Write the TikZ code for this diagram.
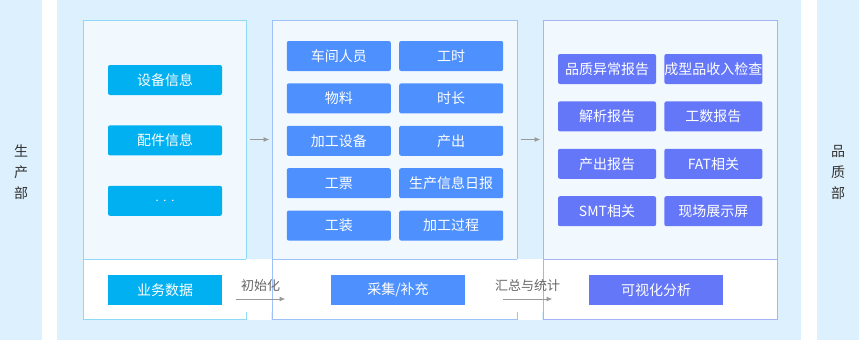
\documentclass[tikz,border=0pt]{standalone}
\usepackage{fontspec}
\setmainfont{Noto Sans CJK SC}
\usetikzlibrary{arrows.meta,positioning}
\definecolor{deptbg}{HTML}{DDF0FD}
\definecolor{panelfill}{HTML}{F1F9FE}
\definecolor{srcline}{HTML}{8ED8F8}
\definecolor{collectline}{HTML}{9EC2F8}
\definecolor{reportline}{HTML}{A6B4F4}
\definecolor{srcblue}{HTML}{00B0F0}
\definecolor{collectblue}{HTML}{4D90FE}
\definecolor{reportviolet}{HTML}{6477F9}
\definecolor{depttext}{HTML}{333333}
\definecolor{flowgray}{HTML}{999999}
\definecolor{labelgray}{HTML}{666666}
\tikzset{
  panelbox/.style={
    draw=#1,
    fill=panelfill,
    line width=1pt,
    inner sep=0pt,
    minimum height=239pt
  },
  bandbox/.style={
    draw=#1,
    fill=white,
    line width=1pt,
    inner sep=0pt,
    minimum height=60pt
  },
  tilebox/.style={
    fill=#1,
    text=white,
    inner sep=0pt,
    minimum height=30pt,
    rounded corners=2pt,
    font=\fontsize{14}{16}\selectfont
  },
  srcbox/.style={tilebox=srcblue, minimum width=114pt},
  collectbox/.style={tilebox=collectblue, minimum width=104pt},
  reportbox/.style={tilebox=reportviolet, minimum width=98pt},
  stagebox/.style={tilebox=#1, rounded corners=0pt, minimum width=134pt},
  flowarrow/.style={-{Latex[length=6pt,width=5pt]}, line width=1pt, draw=flowgray},
  flowlabel/.style={text=labelgray, inner sep=0pt, font=\fontsize{13}{15}\selectfont},
  deptlabel/.style={align=center, text=depttext, font=\fontsize{14}{21}\selectfont}
}

\begin{document}
\begin{tikzpicture}[x=1pt, y=-1pt, node distance=12pt and 8pt]
  \useasboundingbox (0,0) rectangle (859,340);
  \fill[deptbg] (0,0) rectangle (42,340);
  \fill[deptbg] (57,0) rectangle (801,340);
  \fill[deptbg] (817,0) rectangle (859,340);
  \node[deptlabel] (prod) at (21,172) {生\\产\\部};
  \node[deptlabel] (qual) at (838,172) {品\\质\\部};

  \node[panelbox=srcline, minimum width=163pt] (panA) at (164.5,139.5) {};
  \node[panelbox=collectline, minimum width=245pt] (panB) at (394.5,139.5) {};
  \node[panelbox=reportline, minimum width=234pt] (panC) at (660,139.5) {};
  \node[bandbox=srcline, minimum width=163pt] (bandA) at (164.5,289) {};
  \node[bandbox=collectline, minimum width=245pt] (bandB) at (394.5,289) {};
  \node[bandbox=reportline, minimum width=234pt] (bandC) at (660,289) {};
  \fill[white] ([xshift=-0.6pt,yshift=-0.6pt]bandA.north east) rectangle ([xshift=0.6pt,yshift=8pt]bandB.south west);
  \fill[white] ([xshift=0.5pt]bandA.south east) rectangle ([xshift=-0.5pt,yshift=-0.6pt]bandB.north west);
  \fill[white] ([xshift=-0.6pt,yshift=-0.6pt]bandB.north east) rectangle ([xshift=0.6pt,yshift=8pt]bandC.south west);
  \fill[white] ([xshift=0.5pt]bandB.south east) rectangle ([xshift=-0.5pt,yshift=-0.6pt]bandC.north west);

  \node[srcbox] (equip) at (165,80) {设备信息};
  \node[srcbox, below=30pt of equip] (parts) {配件信息};
  \node[srcbox, below=30pt of parts] (more) {${\cdot}\;{\cdot}\;{\cdot}$};

  \node[collectbox] (staff) at (338.8,56) {车间人员};
  \node[collectbox, below=of staff] (material) {物料};
  \node[collectbox, below=of material] (device) {加工设备};
  \node[collectbox, below=of device] (ticket) {工票};
  \node[collectbox, below=of ticket] (fixture) {工装};
  \node[collectbox, right=of staff] (hours) {工时};
  \node[collectbox, right=of material] (duration) {时长};
  \node[collectbox, right=of device] (output) {产出};
  \node[collectbox, right=of ticket] (daily) {生产信息日报};
  \node[collectbox, right=of fixture] (process) {加工过程};

  \node[reportbox] (qualrep) at (607,69) {品质异常报告};
  \node[reportbox, below=17pt of qualrep] (analysis) {解析报告};
  \node[reportbox, below=17pt of analysis] (outrep) {产出报告};
  \node[reportbox, below=17pt of outrep] (smt) {SMT相关};
  \node[reportbox, right=of qualrep] (incoming) {成型品收入检查};
  \node[reportbox, right=of analysis] (workrep) {工数报告};
  \node[reportbox, right=of outrep] (fat) {FAT相关};
  \node[reportbox, right=of smt] (screen) {现场展示屏};

  \node[stagebox=srcblue, minimum width=114pt] (bizdata) at (165,290) {业务数据};
  \node[stagebox=collectblue] (collect) at (398,290) {采集/补充};
  \node[stagebox=reportviolet] (visual) at (656,290) {可视化分析};

  \draw[flowarrow, shorten <=3pt, shorten >=2pt] (panA) -- (panB);
  \draw[flowarrow, shorten <=3pt, shorten >=2pt] (panB) -- (panC);
  \draw[flowarrow] ([xshift=-11pt,yshift=-10pt]bandA.east) -- ([xshift=14pt,yshift=-10pt]bandB.west)
    node[flowlabel, midway, above=7pt] (init) {初始化};
  \draw[flowarrow] ([xshift=-15pt,yshift=-10pt]bandB.east) -- ([xshift=10pt,yshift=-10pt]bandC.west)
    node[flowlabel, midway, above=7pt] (summary) {汇总与统计};
\end{tikzpicture}
\end{document}
